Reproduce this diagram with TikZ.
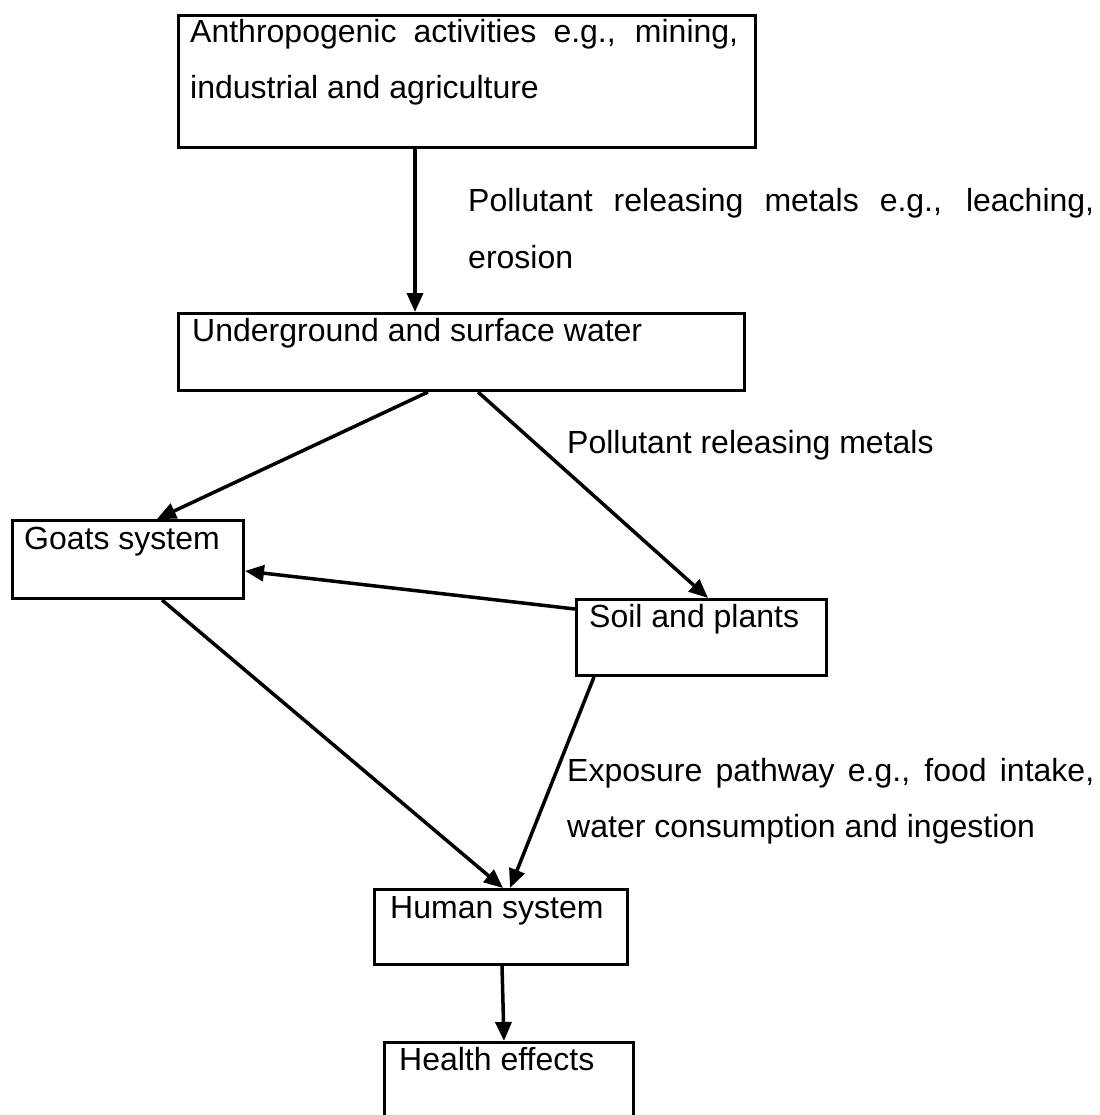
\documentclass[tikz,border=0pt]{standalone}
\usepackage{fontspec}
\setmainfont{Liberation Sans}
\usetikzlibrary{arrows.meta,calc}
\tikzset{
  box/.style={draw=black, line width=3pt, rectangle, inner sep=0pt, anchor=north west},
  lbl/.style={anchor=base west, inner sep=0pt, font=\fontsize{32}{38}\selectfont},
  conn/.style={line width=3.5pt, -{Triangle[length=19pt,width=16pt]}},
}
\begin{document}
\begin{tikzpicture}[x=1pt,y=-1pt]
\useasboundingbox (0,0) rectangle (1099,1115);
% boxes
\node[box, minimum width=577pt, minimum height=132pt] (b1) at (177,14) {};
\node[box, minimum width=566pt, minimum height=77pt] (b2) at (177,312) {};
\node[box, minimum width=231pt, minimum height=78pt] (goats) at (11,519) {};
\node[box, minimum width=250pt, minimum height=76pt] (soil) at (575,598) {};
\node[box, minimum width=253pt, minimum height=75pt] (human) at (373,888) {};
\node[box, minimum width=249pt, minimum height=90pt] (health) at (383,1041) {};
% box texts
\node[lbl] (t1a) at (190,43) {\makebox[548pt][s]{Anthropogenic activities e.g., mining,}};
\node[lbl] (t1b) at (190,99) {industrial and agriculture};
\node[lbl] (t2) at (192,341) {Underground and surface water};
\node[lbl] (t3) at (24,549) {Goats system};
\node[lbl] (t4) at (589,627) {Soil and plants};
\node[lbl] (t5) at (390,918) {Human system};
\node[lbl] (t6) at (399,1070) {Health effects};
% labels
\node[lbl] (l1a) at (468,212) {\makebox[626pt][s]{Pollutant releasing metals e.g., leaching,}};
\node[lbl] (l1b) at (468,268) {erosion};
\node[lbl] (l2) at (567,453) {Pollutant releasing metals};
\node[lbl] (l3a) at (567,781) {\makebox[527pt][s]{Exposure pathway e.g., food intake,}};
\node[lbl] (l3b) at (567,837) {water consumption and ingestion};
% connectors
\draw[conn] ($(b1.south west)+(238,0)$) -- ($(b2.north west)+(238,0)$);
\draw[conn] ($(b2.south west)+(251,0)$) -- ($(goats.north west)+(146,0)$);
\draw[conn] ($(b2.south west)+(301,0)$) -- ($(soil.north west)+(133,0)$);
\draw[conn] ($(soil.north west)+(0,11)$) -- ($(goats.north east)+(0,52)$);
\draw[conn] ($(goats.south west)+(151,0)$) -- ($(human.north west)+(130,0)$);
\draw[conn] ($(soil.south west)+(19,0)$) -- ($(human.north west)+(137,0)$);
\draw[conn] ($(human.south west)+(129,0)$) -- ($(health.north west)+(121,0)$);
\end{tikzpicture}
\end{document}
